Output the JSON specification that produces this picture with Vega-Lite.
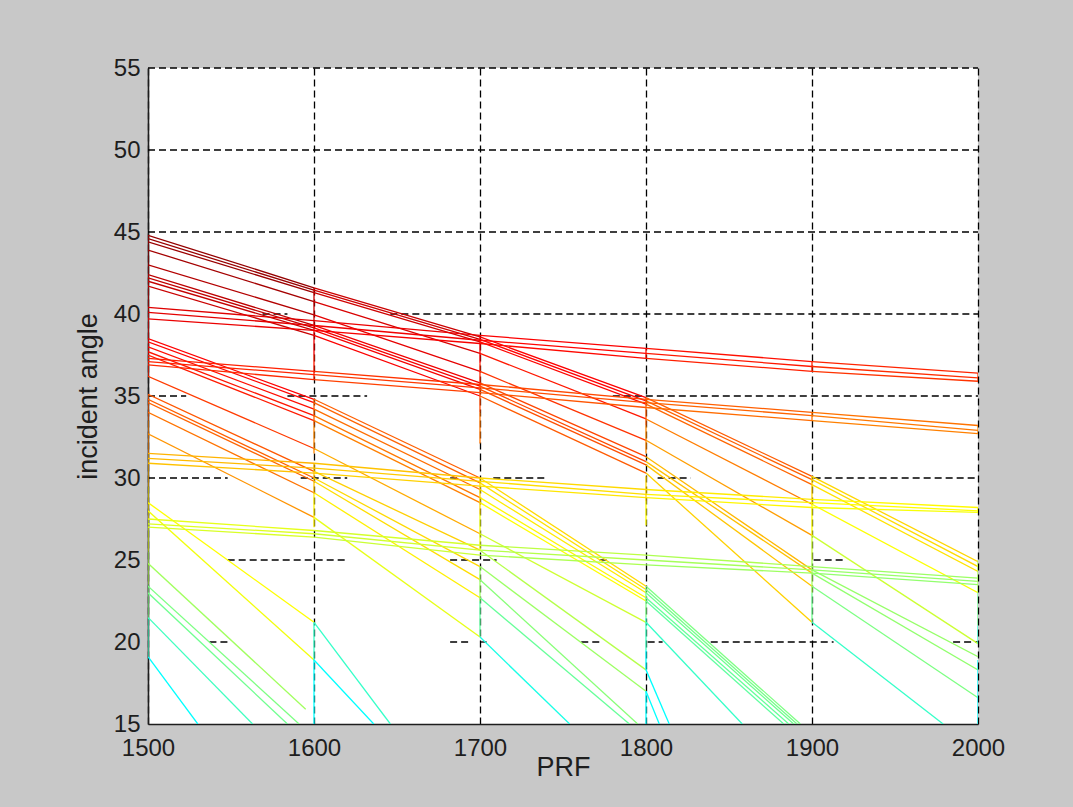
{
  "$schema": "https://vega.github.io/schema/vega-lite/v6.json",
  "width": 830,
  "height": 656,
  "autosize": {"type": "none"},
  "padding": {"left": 148, "top": 68, "right": 95, "bottom": 83},
  "background": "#c8c8c8",
  "config": {"view": {"fill": "#ffffff", "stroke": null}, "font": "Liberation Sans"},
  "datasets": {
    "grid": [
      {"y": 55, "x": 1500, "x2": 2000}, {"y": 50, "x": 1500, "x2": 2000}, {"y": 45, "x": 1500, "x2": 2000},
      {"y": 40, "x": 1569, "x2": 1584}, {"y": 40, "x": 1646, "x2": 2000},
      {"y": 35, "x": 1500, "x2": 1523}, {"y": 35, "x": 1584, "x2": 1632}, {"y": 35, "x": 1780, "x2": 2000},
      {"y": 30, "x": 1500, "x2": 1548}, {"y": 30, "x": 1592, "x2": 1620}, {"y": 30, "x": 1682, "x2": 1688}, {"y": 30, "x": 1708, "x2": 1740}, {"y": 30, "x": 1807, "x2": 1827}, {"y": 30, "x": 1901, "x2": 2000},
      {"y": 25, "x": 1548, "x2": 1620}, {"y": 25, "x": 1682, "x2": 1710}, {"y": 25, "x": 1772, "x2": 1778}, {"y": 25, "x": 1901, "x2": 1919},
      {"y": 20, "x": 1537, "x2": 1549}, {"y": 20, "x": 1682, "x2": 1694}, {"y": 20, "x": 1700, "x2": 1704}, {"y": 20, "x": 1761, "x2": 1773}, {"y": 20, "x": 1801, "x2": 1810}, {"y": 20, "x": 1839, "x2": 1913}, {"y": 20, "x": 1985, "x2": 2000}
    ],
    "seg": [
      {"x": 1500, "y": 44.8, "x2": 1600, "y2": 41.6}, {"x": 1600, "y": 41.6, "x2": 1700, "y2": 38.6}, {"x": 1700, "y": 38.6, "x2": 1800, "y2": 34.9}, {"x": 1800, "y": 34.9, "x2": 1900, "y2": 30.1}, {"x": 1900, "y": 30.1, "x2": 2000, "y2": 24.9},
      {"x": 1500, "y": 44.6, "x2": 1600, "y2": 41.45}, {"x": 1600, "y": 41.45, "x2": 1700, "y2": 38.45}, {"x": 1700, "y": 38.45, "x2": 1800, "y2": 34.7}, {"x": 1800, "y": 34.7, "x2": 1900, "y2": 29.9}, {"x": 1900, "y": 29.9, "x2": 2000, "y2": 24.6},
      {"x": 1500, "y": 44.4, "x2": 1600, "y2": 41.3}, {"x": 1600, "y": 41.3, "x2": 1700, "y2": 38.3}, {"x": 1700, "y": 38.3, "x2": 1800, "y2": 34.5}, {"x": 1800, "y": 34.5, "x2": 1900, "y2": 29.6}, {"x": 1900, "y": 29.6, "x2": 2000, "y2": 24.3},
      {"x": 1500, "y": 43.9, "x2": 1600, "y2": 40.75}, {"x": 1600, "y": 40.75, "x2": 1700, "y2": 37.6}, {"x": 1700, "y": 37.6, "x2": 1800, "y2": 33.6}, {"x": 1800, "y": 33.6, "x2": 1900, "y2": 28.4}, {"x": 1900, "y": 28.4, "x2": 2000, "y2": 23.0},
      {"x": 1500, "y": 43.0, "x2": 1600, "y2": 39.95}, {"x": 1600, "y": 39.95, "x2": 1700, "y2": 36.5}, {"x": 1700, "y": 36.5, "x2": 1800, "y2": 32.3}, {"x": 1800, "y": 32.3, "x2": 1900, "y2": 26.5}, {"x": 1900, "y": 26.5, "x2": 2000, "y2": 19.9},
      {"x": 1500, "y": 42.4, "x2": 1600, "y2": 39.3}, {"x": 1600, "y": 39.3, "x2": 1700, "y2": 35.8}, {"x": 1700, "y": 35.8, "x2": 1800, "y2": 31.3}, {"x": 1800, "y": 31.3, "x2": 1900, "y2": 24.4}, {"x": 1900, "y": 24.4, "x2": 2000, "y2": 19.1},
      {"x": 1500, "y": 42.2, "x2": 1600, "y2": 39.15}, {"x": 1600, "y": 39.15, "x2": 1700, "y2": 35.6}, {"x": 1700, "y": 35.6, "x2": 1800, "y2": 31.0}, {"x": 1800, "y": 31.0, "x2": 1900, "y2": 24.2}, {"x": 1900, "y": 24.2, "x2": 2000, "y2": 18.3},
      {"x": 1500, "y": 42.0, "x2": 1600, "y2": 39.0}, {"x": 1600, "y": 39.0, "x2": 1700, "y2": 35.4}, {"x": 1700, "y": 35.4, "x2": 1800, "y2": 30.8}, {"x": 1800, "y": 30.8, "x2": 1900, "y2": 23.4}, {"x": 1900, "y": 23.4, "x2": 2000, "y2": 16.6},
      {"x": 1500, "y": 41.7, "x2": 1600, "y2": 38.7}, {"x": 1600, "y": 38.7, "x2": 1700, "y2": 35.0}, {"x": 1700, "y": 35.0, "x2": 1800, "y2": 30.3}, {"x": 1800, "y": 30.3, "x2": 1900, "y2": 21.2}, {"x": 1900, "y": 21.2, "x2": 1979, "y2": 15},
      {"x": 1500, "y": 38.5, "x2": 1600, "y2": 34.8}, {"x": 1600, "y": 34.8, "x2": 1700, "y2": 30.0}, {"x": 1700, "y": 30.0, "x2": 1800, "y2": 23.4}, {"x": 1800, "y": 23.4, "x2": 1893, "y2": 15},
      {"x": 1500, "y": 38.3, "x2": 1600, "y2": 34.6}, {"x": 1600, "y": 34.6, "x2": 1700, "y2": 29.7}, {"x": 1700, "y": 29.7, "x2": 1800, "y2": 23.2}, {"x": 1800, "y": 23.2, "x2": 1891, "y2": 15},
      {"x": 1500, "y": 38.0, "x2": 1600, "y2": 34.2}, {"x": 1600, "y": 34.2, "x2": 1700, "y2": 29.3}, {"x": 1700, "y": 29.3, "x2": 1800, "y2": 23.0}, {"x": 1800, "y": 23.0, "x2": 1889, "y2": 15},
      {"x": 1500, "y": 37.7, "x2": 1600, "y2": 33.8}, {"x": 1600, "y": 33.8, "x2": 1700, "y2": 28.8}, {"x": 1700, "y": 28.8, "x2": 1800, "y2": 22.7}, {"x": 1800, "y": 22.7, "x2": 1886, "y2": 15},
      {"x": 1500, "y": 37.5, "x2": 1600, "y2": 33.5}, {"x": 1600, "y": 33.5, "x2": 1700, "y2": 28.5}, {"x": 1700, "y": 28.5, "x2": 1800, "y2": 22.5}, {"x": 1800, "y": 22.5, "x2": 1883, "y2": 15},
      {"x": 1500, "y": 36.2, "x2": 1600, "y2": 31.8}, {"x": 1600, "y": 31.8, "x2": 1700, "y2": 26.6}, {"x": 1700, "y": 26.6, "x2": 1800, "y2": 21.2}, {"x": 1800, "y": 21.2, "x2": 1858, "y2": 15},
      {"x": 1500, "y": 35.1, "x2": 1600, "y2": 30.4}, {"x": 1600, "y": 30.4, "x2": 1700, "y2": 25.6}, {"x": 1700, "y": 25.6, "x2": 1800, "y2": 18.3}, {"x": 1800, "y": 18.3, "x2": 1814, "y2": 15},
      {"x": 1500, "y": 34.8, "x2": 1600, "y2": 30.0}, {"x": 1600, "y": 30.0, "x2": 1700, "y2": 24.6}, {"x": 1700, "y": 24.6, "x2": 1800, "y2": 17.0}, {"x": 1800, "y": 17.0, "x2": 1808, "y2": 15},
      {"x": 1500, "y": 34.6, "x2": 1600, "y2": 29.8}, {"x": 1600, "y": 29.8, "x2": 1700, "y2": 23.8}, {"x": 1700, "y": 23.8, "x2": 1795, "y2": 15},
      {"x": 1500, "y": 34.0, "x2": 1600, "y2": 29.1}, {"x": 1600, "y": 29.1, "x2": 1700, "y2": 22.7}, {"x": 1700, "y": 22.7, "x2": 1790, "y2": 15},
      {"x": 1500, "y": 32.7, "x2": 1600, "y2": 27.6}, {"x": 1600, "y": 27.6, "x2": 1700, "y2": 20.3}, {"x": 1700, "y": 20.3, "x2": 1754, "y2": 15},
      {"x": 1500, "y": 28.5, "x2": 1600, "y2": 21.2}, {"x": 1600, "y": 21.2, "x2": 1646, "y2": 15},
      {"x": 1500, "y": 28.0, "x2": 1600, "y2": 18.9}, {"x": 1600, "y": 18.9, "x2": 1636, "y2": 15},
      {"x": 1500, "y": 24.8, "x2": 1595, "y2": 15.9},
      {"x": 1500, "y": 23.4, "x2": 1591, "y2": 15},
      {"x": 1500, "y": 23.0, "x2": 1584, "y2": 15},
      {"x": 1500, "y": 21.5, "x2": 1563, "y2": 15},
      {"x": 1500, "y": 19.1, "x2": 1530, "y2": 15},

      {"x": 1500, "y": 40.4, "x2": 1600, "y2": 39.6}, {"x": 1600, "y": 39.6, "x2": 1700, "y2": 38.7}, {"x": 1700, "y": 38.7, "x2": 1800, "y2": 37.9}, {"x": 1800, "y": 37.9, "x2": 1900, "y2": 37.1}, {"x": 1900, "y": 37.1, "x2": 2000, "y2": 36.4},
      {"x": 1500, "y": 40.1, "x2": 1600, "y2": 39.3}, {"x": 1600, "y": 39.3, "x2": 1700, "y2": 38.4}, {"x": 1700, "y": 38.4, "x2": 1800, "y2": 37.6}, {"x": 1800, "y": 37.6, "x2": 1900, "y2": 36.8}, {"x": 1900, "y": 36.8, "x2": 2000, "y2": 36.1},
      {"x": 1500, "y": 39.7, "x2": 1600, "y2": 39.0}, {"x": 1600, "y": 39.0, "x2": 1700, "y2": 38.2}, {"x": 1700, "y": 38.2, "x2": 1800, "y2": 37.3}, {"x": 1800, "y": 37.3, "x2": 1900, "y2": 36.5}, {"x": 1900, "y": 36.5, "x2": 2000, "y2": 35.9},
      {"x": 1500, "y": 37.3, "x2": 1600, "y2": 36.5}, {"x": 1600, "y": 36.5, "x2": 1700, "y2": 35.7}, {"x": 1700, "y": 35.7, "x2": 1800, "y2": 34.8}, {"x": 1800, "y": 34.8, "x2": 1900, "y2": 34.0}, {"x": 1900, "y": 34.0, "x2": 2000, "y2": 33.2},
      {"x": 1500, "y": 37.1, "x2": 1600, "y2": 36.3}, {"x": 1600, "y": 36.3, "x2": 1700, "y2": 35.5}, {"x": 1700, "y": 35.5, "x2": 1800, "y2": 34.6}, {"x": 1800, "y": 34.6, "x2": 1900, "y2": 33.8}, {"x": 1900, "y": 33.8, "x2": 2000, "y2": 32.9},
      {"x": 1500, "y": 36.9, "x2": 1600, "y2": 36.0}, {"x": 1600, "y": 36.0, "x2": 1700, "y2": 35.2}, {"x": 1700, "y": 35.2, "x2": 1800, "y2": 34.3}, {"x": 1800, "y": 34.3, "x2": 1900, "y2": 33.5}, {"x": 1900, "y": 33.5, "x2": 2000, "y2": 32.7},
      {"x": 1500, "y": 31.5, "x2": 1600, "y2": 30.9}, {"x": 1600, "y": 30.9, "x2": 1700, "y2": 30.0}, {"x": 1700, "y": 30.0, "x2": 1800, "y2": 29.3}, {"x": 1800, "y": 29.3, "x2": 1900, "y2": 28.7}, {"x": 1900, "y": 28.7, "x2": 2000, "y2": 28.2},
      {"x": 1500, "y": 31.2, "x2": 1600, "y2": 30.6}, {"x": 1600, "y": 30.6, "x2": 1700, "y2": 29.8}, {"x": 1700, "y": 29.8, "x2": 1800, "y2": 29.0}, {"x": 1800, "y": 29.0, "x2": 1900, "y2": 28.5}, {"x": 1900, "y": 28.5, "x2": 2000, "y2": 28.0},
      {"x": 1500, "y": 30.9, "x2": 1600, "y2": 30.3}, {"x": 1600, "y": 30.3, "x2": 1700, "y2": 29.5}, {"x": 1700, "y": 29.5, "x2": 1800, "y2": 28.8}, {"x": 1800, "y": 28.8, "x2": 1900, "y2": 28.2}, {"x": 1900, "y": 28.2, "x2": 2000, "y2": 27.9},
      {"x": 1500, "y": 27.5, "x2": 1600, "y2": 26.8}, {"x": 1600, "y": 26.8, "x2": 1700, "y2": 25.9}, {"x": 1700, "y": 25.9, "x2": 1800, "y2": 25.3}, {"x": 1800, "y": 25.3, "x2": 1900, "y2": 24.6}, {"x": 1900, "y": 24.6, "x2": 2000, "y2": 23.9},
      {"x": 1500, "y": 27.2, "x2": 1600, "y2": 26.6}, {"x": 1600, "y": 26.6, "x2": 1700, "y2": 25.6}, {"x": 1700, "y": 25.6, "x2": 1800, "y2": 25.0}, {"x": 1800, "y": 25.0, "x2": 1900, "y2": 24.4}, {"x": 1900, "y": 24.4, "x2": 2000, "y2": 23.7},
      {"x": 1500, "y": 27.0, "x2": 1600, "y2": 26.4}, {"x": 1600, "y": 26.4, "x2": 1700, "y2": 25.3}, {"x": 1700, "y": 25.3, "x2": 1800, "y2": 24.7}, {"x": 1800, "y": 24.7, "x2": 1900, "y2": 24.2}, {"x": 1900, "y": 24.2, "x2": 2000, "y2": 23.5},

      {"x": 1500, "y": 44.8, "x2": 1500, "y2": 42.4}, {"x": 1500, "y": 42.4, "x2": 1500, "y2": 40.0}, {"x": 1500, "y": 40.0, "x2": 1500, "y2": 37.5}, {"x": 1500, "y": 37.5, "x2": 1500, "y2": 36.2},
      {"x": 1500, "y": 35.1, "x2": 1500, "y2": 33.5}, {"x": 1500, "y": 33.5, "x2": 1500, "y2": 31.5}, {"x": 1500, "y": 31.5, "x2": 1500, "y2": 29.5}, {"x": 1500, "y": 29.5, "x2": 1500, "y2": 27.5},
      {"x": 1500, "y": 27.5, "x2": 1500, "y2": 25.5}, {"x": 1500, "y": 25.5, "x2": 1500, "y2": 23.5}, {"x": 1500, "y": 23.5, "x2": 1500, "y2": 21.5}, {"x": 1500, "y": 21.5, "x2": 1500, "y2": 19.1},
      {"x": 1600, "y": 41.6, "x2": 1600, "y2": 39.5}, {"x": 1600, "y": 39.5, "x2": 1600, "y2": 37.5}, {"x": 1600, "y": 37.5, "x2": 1600, "y2": 36.0},
      {"x": 1600, "y": 34.8, "x2": 1600, "y2": 33.2}, {"x": 1600, "y": 33.2, "x2": 1600, "y2": 31.5}, {"x": 1600, "y": 30.9, "x2": 1600, "y2": 29.0}, {"x": 1600, "y": 29.0, "x2": 1600, "y2": 27.0},
      {"x": 1600, "y": 21.2, "x2": 1600, "y2": 19.0}, {"x": 1600, "y": 19.0, "x2": 1600, "y2": 17.0}, {"x": 1600, "y": 17.0, "x2": 1600, "y2": 15.0},
      {"x": 1700, "y": 38.6, "x2": 1700, "y2": 37.0}, {"x": 1700, "y": 37.0, "x2": 1700, "y2": 35.6}, {"x": 1700, "y": 35.6, "x2": 1700, "y2": 34.0}, {"x": 1700, "y": 34.0, "x2": 1700, "y2": 32.1},
      {"x": 1700, "y": 30.0, "x2": 1700, "y2": 27.8}, {"x": 1700, "y": 27.8, "x2": 1700, "y2": 25.6}, {"x": 1700, "y": 24.6, "x2": 1700, "y2": 22.5}, {"x": 1700, "y": 22.5, "x2": 1700, "y2": 20.3},
      {"x": 1800, "y": 37.9, "x2": 1800, "y2": 37.3}, {"x": 1800, "y": 34.9, "x2": 1800, "y2": 33.2}, {"x": 1800, "y": 33.2, "x2": 1800, "y2": 31.5}, {"x": 1800, "y": 30.1, "x2": 1800, "y2": 28.6}, {"x": 1800, "y": 28.6, "x2": 1800, "y2": 27.1},
      {"x": 1800, "y": 23.3, "x2": 1800, "y2": 21.5}, {"x": 1800, "y": 21.5, "x2": 1800, "y2": 19.5}, {"x": 1800, "y": 19.5, "x2": 1800, "y2": 18.3}, {"x": 1800, "y": 17.0, "x2": 1800, "y2": 15.0},
      {"x": 1900, "y": 37.1, "x2": 1900, "y2": 36.5}, {"x": 1900, "y": 34.0, "x2": 1900, "y2": 33.5}, {"x": 1900, "y": 30.1, "x2": 1900, "y2": 28.5}, {"x": 1900, "y": 28.5, "x2": 1900, "y2": 26.5},
      {"x": 1900, "y": 26.5, "x2": 1900, "y2": 25.0}, {"x": 1900, "y": 25.0, "x2": 1900, "y2": 23.0}, {"x": 1900, "y": 23.0, "x2": 1900, "y2": 21.2},
      {"x": 2000, "y": 36.4, "x2": 2000, "y2": 35.9}, {"x": 2000, "y": 33.2, "x2": 2000, "y2": 32.7}, {"x": 2000, "y": 28.2, "x2": 2000, "y2": 27.9},
      {"x": 2000, "y": 25.0, "x2": 2000, "y2": 23.0}, {"x": 2000, "y": 23.0, "x2": 2000, "y2": 21.0}, {"x": 2000, "y": 21.0, "x2": 2000, "y2": 19.9}, {"x": 2000, "y": 18.9, "x2": 2000, "y2": 17.0}, {"x": 2000, "y": 17.0, "x2": 2000, "y2": 15.0}
    ]
  },
  "encoding": {
    "x": {
      "field": "x", "type": "quantitative",
      "scale": {"domain": [1500, 2000], "nice": false, "zero": false},
      "axis": {
        "values": [1500, 1600, 1700, 1800, 1900, 2000], "format": "d",
        "grid": true, "gridDash": [7, 4], "gridColor": "#000000", "gridOpacity": 1, "gridWidth": 1.3,
        "domainColor": "#1e1e1e", "domainWidth": 1.6, "ticks": false, "tickSize": 0,
        "labelPadding": 12, "labelFontSize": 24, "labelFont": "Liberation Sans", "labelColor": "#1e1e1e", "labelFlush": false, "labelOverlap": false,
        "title": "PRF", "titleFont": "Liberation Sans", "titleFontSize": 27, "titleFontWeight": "normal", "titleColor": "#1e1e1e", "titlePadding": -6
      }
    },
    "x2": {"field": "x2"},
    "y": {
      "field": "y", "type": "quantitative",
      "scale": {"domain": [15, 55], "nice": false, "zero": false},
      "axis": {
        "values": [15, 20, 25, 30, 35, 40, 45, 50, 55], "format": "d",
        "grid": false,
        "domainColor": "#1e1e1e", "domainWidth": 1.6, "ticks": false, "tickSize": 0,
        "labelPadding": 8, "labelFontSize": 24, "labelFont": "Liberation Sans", "labelColor": "#1e1e1e", "labelFlush": false, "labelOverlap": false,
        "title": "incident angle", "titleFont": "Liberation Sans", "titleFontSize": 27, "titleFontWeight": "normal", "titleColor": "#1e1e1e", "titlePadding": 11
      }
    }
  },
  "layer": [
    {
      "data": {"name": "grid"},
      "mark": {"type": "rule", "strokeDash": [7, 4], "color": "#000000", "strokeWidth": 1.3}
    },
    {
      "data": {"name": "seg"},
      "mark": {"type": "rule", "strokeWidth": 1.3, "clip": true},
      "encoding": {
        "y2": {"field": "y2"},
        "color": {
          "field": "y", "type": "quantitative", "legend": null,
          "scale": {
            "domain": [19.5, 23.5, 28.5, 33.5, 38.5, 46],
            "range": ["#00ffff", "#80ff80", "#ffff00", "#ff8000", "#ff0000", "#800000"],
            "clamp": true, "interpolate": "rgb"
          }
        }
      }
    }
  ]
}
